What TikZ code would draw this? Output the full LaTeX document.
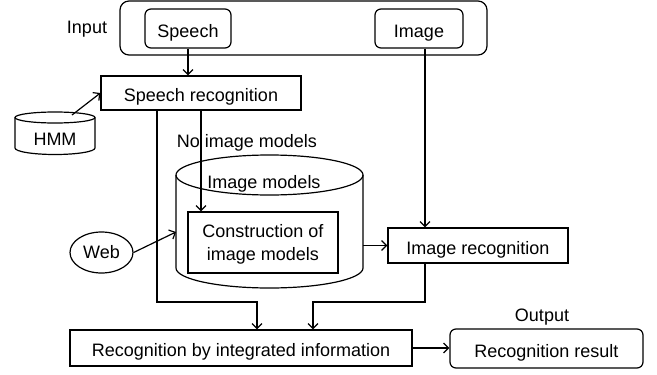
\documentclass[tikz,border=0pt]{standalone}
\usepackage{fontspec}
\setmainfont{Liberation Sans}
\usetikzlibrary{arrows.meta,shapes.geometric}
\begin{document}
\begin{tikzpicture}[x=1pt,y=-1pt,line width=1.2pt,
  font=\fontsize{18}{23}\selectfont,
  every node/.style={text height=17.5pt,text depth=0pt},
  box/.style={draw,inner sep=0pt},
  rbox/.style={draw,rounded corners=6pt,inner sep=0pt},
  arr/.style={-{Straight Barb[length=5pt,width=10pt,line width=1.2pt]}},
  lbl/.style={inner sep=0pt}]
\useasboundingbox (0,0) rectangle (657,375);
% input group
\node[draw,rounded corners=9pt,minimum width=367pt,minimum height=54pt,text height=0pt] (inp) at (303.5,28) {};
\node[lbl] (inlbl) at (87,24.5) {Input};
\node[rbox,minimum width=86pt,minimum height=39pt] (speech) at (188,28.5) {Speech};
\node[rbox,minimum width=88pt,minimum height=39pt] (image) at (419,28.5) {Image};
% speech recognition
\node[box,minimum width=200pt,minimum height=34pt] (sr) at (201,93) {Speech recognition};
% HMM cylinder
\draw (55,117.5) ellipse [x radius=40pt,y radius=5.5pt];
\draw (15,117.5) -- (15,148) arc[start angle=180,end angle=360,x radius=40pt,y radius=6.5pt] -- (95,117.5);
\node[lbl] (hmm) at (55,137.2) {HMM};
\coordinate (hmmtop) at (72,115);
% no image models
\node[lbl] (noim) at (247,138.3) {No image models};
% image models cylinder
\draw (269.5,175) ellipse [x radius=93.5pt,y radius=20pt];
\draw (176,175) -- (176,268) arc[start angle=180,end angle=360,x radius=93.5pt,y radius=20pt] -- (363,175);
\node[lbl] (immod) at (264,179.3) {Image models};
\coordinate (cylleft) at (176,232);
\coordinate (cylright) at (363,245.5);
\node[box,minimum width=150pt,minimum height=61pt,text height=0pt] (cons) at (263,242.5) {};
\node[lbl,align=center,text height=,text depth=,font=\fontsize{18}{23}\selectfont] (constext) at (263,244.5) {Construction of\\image models};
% web
\node[draw,ellipse,minimum width=63pt,minimum height=41pt,inner sep=0pt,text height=,text depth=] (web) at (101.5,252.5) {Web};
% image recognition
\node[box,minimum width=180pt,minimum height=35pt] (ir) at (478,245.5) {Image recognition};
% bottom
\node[box,minimum width=342pt,minimum height=36pt] (rbi) at (241,348) {Recognition by integrated information};
\node[rbox,minimum width=193pt,minimum height=39pt] (rr) at (546.5,348.5) {Recognition result};
\node[lbl] (out) at (542,313) {Output};
% connectors
\draw[arr] (speech.south) -- (speech.south |- sr.north);
\draw[arr] (hmmtop) -- (sr.west);
\draw[arr] (sr.south -| 157,0) -- (157,302) -- (257,302) -- (257,0 |- rbi.north);
\draw[arr] (sr.south -| 201,0) -- (201,0 |- cons.north);
\draw[arr] (web.east) -- (cylleft);
\draw[arr] (cylright) -- (cylright -| ir.west);
\draw[arr] (image.south -| 425,0) -- (425,0 |- ir.north);
\draw[arr] (ir.south -| 425,0) -- (425,302) -- (313,302) -- (313,0 |- rbi.north);
\draw[arr] (rbi.east) -- (rbi.east -| rr.west);
\end{tikzpicture}
\end{document}
